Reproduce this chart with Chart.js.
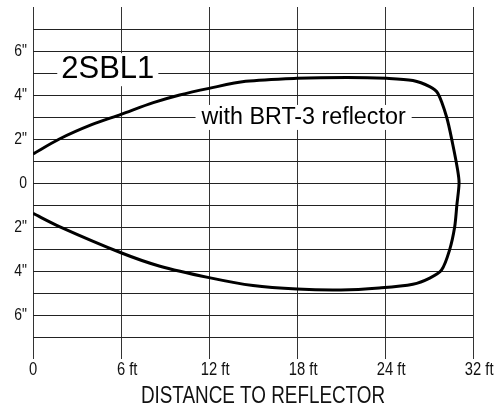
<!DOCTYPE html>
<html>
<head>
<meta charset="utf-8">
<script src="https://cdn.jsdelivr.net/npm/chart.js@4"></script>
<style>
  html, body { margin: 0; padding: 0; background: #fff; }
  canvas { display: block; }
</style>
</head>
<body>
<canvas id="beamChart" width="502" height="412"></canvas>
<script>
// 光束轮廓 (距离 ft, 宽度 inch)
const upperX = [0, 1.8, 4, 6, 8.2, 10, 12, 14.5, 18, 21.4, 24.1, 25.9, 27.05, 27.6, 28.2, 28.6, 28.95, 29.05];
const upperY = [1.32, 2.0, 2.65, 3.12, 3.65, 4.0, 4.3, 4.62, 4.76, 4.8, 4.76, 4.66, 4.38, 4.08, 3.0, 1.82, 0.6, 0];
const lowerX = [28.9, 28.75, 28.4, 27.86, 27.05, 25.9, 23.6, 21, 18, 15, 12, 8.6, 6, 1.8, 0];
const lowerY = [-1.0, -2.0, -3.05, -3.95, -4.32, -4.6, -4.77, -4.86, -4.82, -4.66, -4.3, -3.77, -3.17, -1.98, -1.38];

// 刻度
const xTickValues = [0, 6, 12, 18, 24, 30];
const xTickLabels = ['0', '6 ft', '12 ft', '18 ft', '24 ft', '32 ft'];
const yTickValues = [-8, -7, -6, -5, -4, -3, -2, -1, 0, 1, 2, 3, 4, 5, 6, 7, 8];
const yTickLabels = ['', '', '6"', '', '4"', '', '2"', '', '0', '', '2"', '', '4"', '', '6"', '', ''];

const modelName = '2SBL1';
const noteText = 'with BRT-3 reflector';
const xTitle = 'DISTANCE TO REFLECTOR';

const regular = "'Liberation Sans', Arial, sans-serif";
const squeeze = 0.82; // 模拟窄体字

const points = [];
upperX.forEach((v, i) => points.push({ x: v, y: upperY[i] }));
lowerX.forEach((v, i) => points.push({ x: v, y: lowerY[i] }));

function boxText(ctx, text, cx, cy, font, padX, h) {
    ctx.font = font;
    const w = ctx.measureText(text).width;
    ctx.fillStyle = '#fff';
    ctx.fillRect(cx - w / 2 - padX, cy - h / 2, w + padX * 2, h);
    ctx.fillStyle = '#000';
    ctx.textAlign = 'center';
    ctx.textBaseline = 'middle';
    ctx.fillText(text, cx, cy);
}

function narrowText(ctx, text, x, y, align) {
    ctx.save();
    ctx.translate(x, y);
    ctx.scale(squeeze, 1);
    ctx.textAlign = align;
    ctx.fillText(text, 0, 0);
    ctx.restore();
}

const labelPlugin = {
    id: 'beamLabels',
    beforeDatasetsDraw(chart) {
        const { ctx, scales: { x, y } } = chart;
        ctx.save();
        boxText(ctx, modelName, x.getPixelForValue(5.1), y.getPixelForValue(5.15), '31px ' + regular, 4, 33);
        boxText(ctx, noteText, x.getPixelForValue(18.45), y.getPixelForValue(2.98), '23.3px ' + regular, 6, 25);
        ctx.restore();
    },
    afterDraw(chart) {
        const { ctx, scales: { x, y }, chartArea } = chart;
        ctx.save();
        ctx.fillStyle = '#111';
        ctx.textBaseline = 'middle';
        ctx.font = '18px ' + regular;
        // 数字居中于网格线, 单位跟在后面
        xTickValues.forEach((v, i) => {
            const num = xTickLabels[i].split(' ')[0];
            const px = x.getPixelForValue(v);
            const nw = ctx.measureText(num).width * squeeze;
            narrowText(ctx, xTickLabels[i], px - nw / 2, chartArea.bottom + 11, 'left');
        });
        ctx.font = '17px ' + regular;
        yTickValues.forEach((v, i) => {
            if (!yTickLabels[i]) return;
            narrowText(ctx, yTickLabels[i], chartArea.left - 6, y.getPixelForValue(v), 'right');
        });
        ctx.font = '23px ' + regular;
        narrowText(ctx, xTitle, (chartArea.left + chartArea.right) / 2 + 10, chartArea.bottom + 38, 'center');
        ctx.restore();
    }
};

new Chart(document.getElementById('beamChart'), {
    type: 'scatter',
    data: {
        datasets: [{
            data: points,
            showLine: true,
            borderColor: '#000',
            borderWidth: 3,
            pointRadius: 0,
            tension: 0.3,
            fill: false
        }]
    },
    options: {
        responsive: false,
        devicePixelRatio: 1,
        animation: false,
        layout: { padding: { top: 7, right: 29, left: 0, bottom: 0 } },
        plugins: {
            legend: { display: false },
            tooltip: { enabled: false }
        },
        scales: {
            x: {
                type: 'linear',
                min: 0,
                max: 30,
                afterBuildTicks: s => { s.ticks = xTickValues.map(v => ({ value: v })); },
                afterFit: s => { s.height = 53; s.paddingLeft = 0; s.paddingRight = 0; },
                ticks: { display: false, autoSkip: false },
                grid: { color: '#333', lineWidth: 1, drawTicks: false },
                border: { display: false }
            },
            y: {
                type: 'linear',
                min: -8,
                max: 8,
                afterBuildTicks: s => { s.ticks = yTickValues.map(v => ({ value: v })); },
                afterFit: s => { s.width = 33; s.paddingTop = 0; s.paddingBottom = 0; },
                ticks: { display: false, autoSkip: false },
                grid: {
                    color: c => (Math.abs(c.tick.value) === 8 ? 'rgba(0,0,0,0)' : '#222'),
                    lineWidth: 1,
                    drawTicks: false
                },
                border: { display: false }
            }
        }
    },
    plugins: [labelPlugin]
});
</script>
</body>
</html>
